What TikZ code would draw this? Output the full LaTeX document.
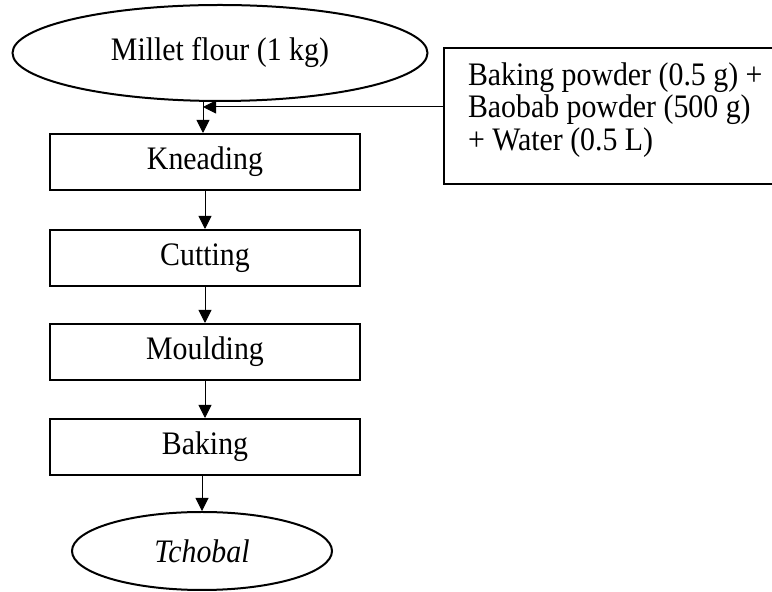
\documentclass[tikz,border=0pt]{standalone}
\usepackage{fontspec}
\setmainfont[FakeStretch=0.91]{Liberation Serif}
\usetikzlibrary{shapes.geometric,arrows.meta}
\begin{document}
\begin{tikzpicture}[x=0.5pt,y=-0.5pt,
  font=\fontsize{16.4pt}{16.3pt}\selectfont,
  stepbox/.style={draw,line width=1pt,minimum width=155pt,minimum height=28pt,inner sep=0pt},
  oval/.style={draw,ellipse,line width=1pt,inner sep=0pt},
  arr/.style={line width=0.5pt,-{Triangle[length=6.5pt,width=6.5pt]}}]
\useasboundingbox (0,0) rectangle (772,592);
\node[oval,minimum width=207.5pt,minimum height=48pt] (top) at (220,53) {Millet flour (1 kg)};
\node[stepbox] (knead) at (205,162) {Kneading};
\node[stepbox] (cut) at (205,258) {Cutting};
\node[stepbox] (mould) at (205,352) {Moulding};
\node[stepbox] (bake) at (205,447) {Baking};
\node[oval,minimum width=130pt,minimum height=39pt] (end) at (202,551) {\itshape Tchobal};
\node[draw,line width=1pt,anchor=west,minimum height=68pt,
      inner xsep=12pt,inner ysep=0pt] (add) at (443,116)
  {\hbox to 175pt{\vbox{\baselineskip=16.3pt
     \hbox{Baking powder (0.5 g) +}%
     \hbox{Baobab powder (500 g)}%
     \hbox{+ Water (0.5 L)\rule[-9.7pt]{0pt}{0pt}}}\hfil}};
\coordinate (j) at (203,107);
\draw[arr] (top.south -| j) -- (knead.north -| j);
\draw[arr] (add.west |- j) -- (j);
\draw[arr] (knead.south) -- (cut.north);
\draw[arr] (cut.south) -- (mould.north);
\draw[arr] (mould.south) -- (bake.north);
\draw[arr] (bake.south -| end.north) -- (end.north);
\end{tikzpicture}
\end{document}
